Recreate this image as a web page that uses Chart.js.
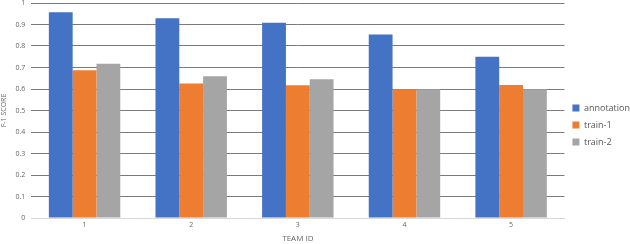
<!DOCTYPE html>
<html>
<head>
<meta charset="utf-8">
<script src="https://cdn.jsdelivr.net/npm/chart.js@4"></script>
<style>
  html, body { margin: 0; padding: 0; background: #fff; }
  #wrap { width: 630px; height: 244px; }
</style>
</head>
<body>
<div id="wrap"><canvas id="chart" width="630" height="244"></canvas></div>
<script>
// data
let teams = ["1", "2", "3", "4", "5"];
let annotation = [0.957, 0.929, 0.908, 0.853, 0.750];
let train1 = [0.687, 0.626, 0.617, 0.599, 0.619];
let train2 = [0.718, 0.659, 0.645, 0.599, 0.599];
let yTicks = [0, 0.1, 0.2, 0.3, 0.4, 0.5, 0.6, 0.7, 0.8, 0.9, 1];

let font = "'Open Sans', 'Liberation Sans', sans-serif";
let ctx = document.getElementById("chart").getContext("2d");

let chart = new Chart(ctx, {
    type: 'bar',
    data: {
        labels: teams,
        datasets: [
            { label: 'annotation', data: annotation, backgroundColor: '#4472C4' },
            { label: 'train-1', data: train1, backgroundColor: '#ED7D31' },
            { label: 'train-2', data: train2, backgroundColor: '#A5A5A5' }
        ]
    },
    options: {
        responsive: false,
        animation: false,
        // negative right padding pushes the legend to the edge like the original
        layout: { padding: { top: 3, right: -10, left: 0, bottom: 0 } },
        datasets: {
            bar: { categoryPercentage: 0.67, barPercentage: 1.0 }
        },
        scales: {
            x: {
                grid: { display: false, drawTicks: false },
                border: { color: '#d9d9d9' },
                ticks: { color: '#666', font: { family: font, size: 7 }, padding: 3 },
                title: { display: true, text: 'TEAM ID', color: '#666', font: { family: font, size: 8 }, padding: { top: 2, bottom: 0 } }
            },
            y: {
                min: 0,
                max: 1,
                afterBuildTicks: (axis) => { axis.ticks = yTicks.map(v => ({ value: v })); },
                afterFit: (axis) => { axis.paddingTop = 0; },
                grid: {
                    color: (c) => c.tick && c.tick.value === 0 ? '#d9d9d9' : '#7a7a7a',
                    lineWidth: 1,
                    drawTicks: false
                },
                border: { display: false },
                ticks: {
                    color: '#666',
                    font: { family: font, size: 7 },
                    padding: 6,
                    callback: (v) => String(v)
                },
                title: { display: true, text: 'F-1 SCORE', color: '#666', font: { family: font, size: 7 }, padding: { top: 0, bottom: 1 } }
            }
        },
        plugins: {
            legend: {
                position: 'right',
                title: { display: true, text: '', font: { size: 1 }, padding: { top: 1, bottom: 1 } },
                labels: {
                    boxWidth: 7,
                    boxHeight: 7,
                    padding: 8,
                    color: '#555',
                    font: { family: font, size: 9 }
                }
            },
            tooltip: { enabled: false }
        }
    }
});
</script>
</body>
</html>
